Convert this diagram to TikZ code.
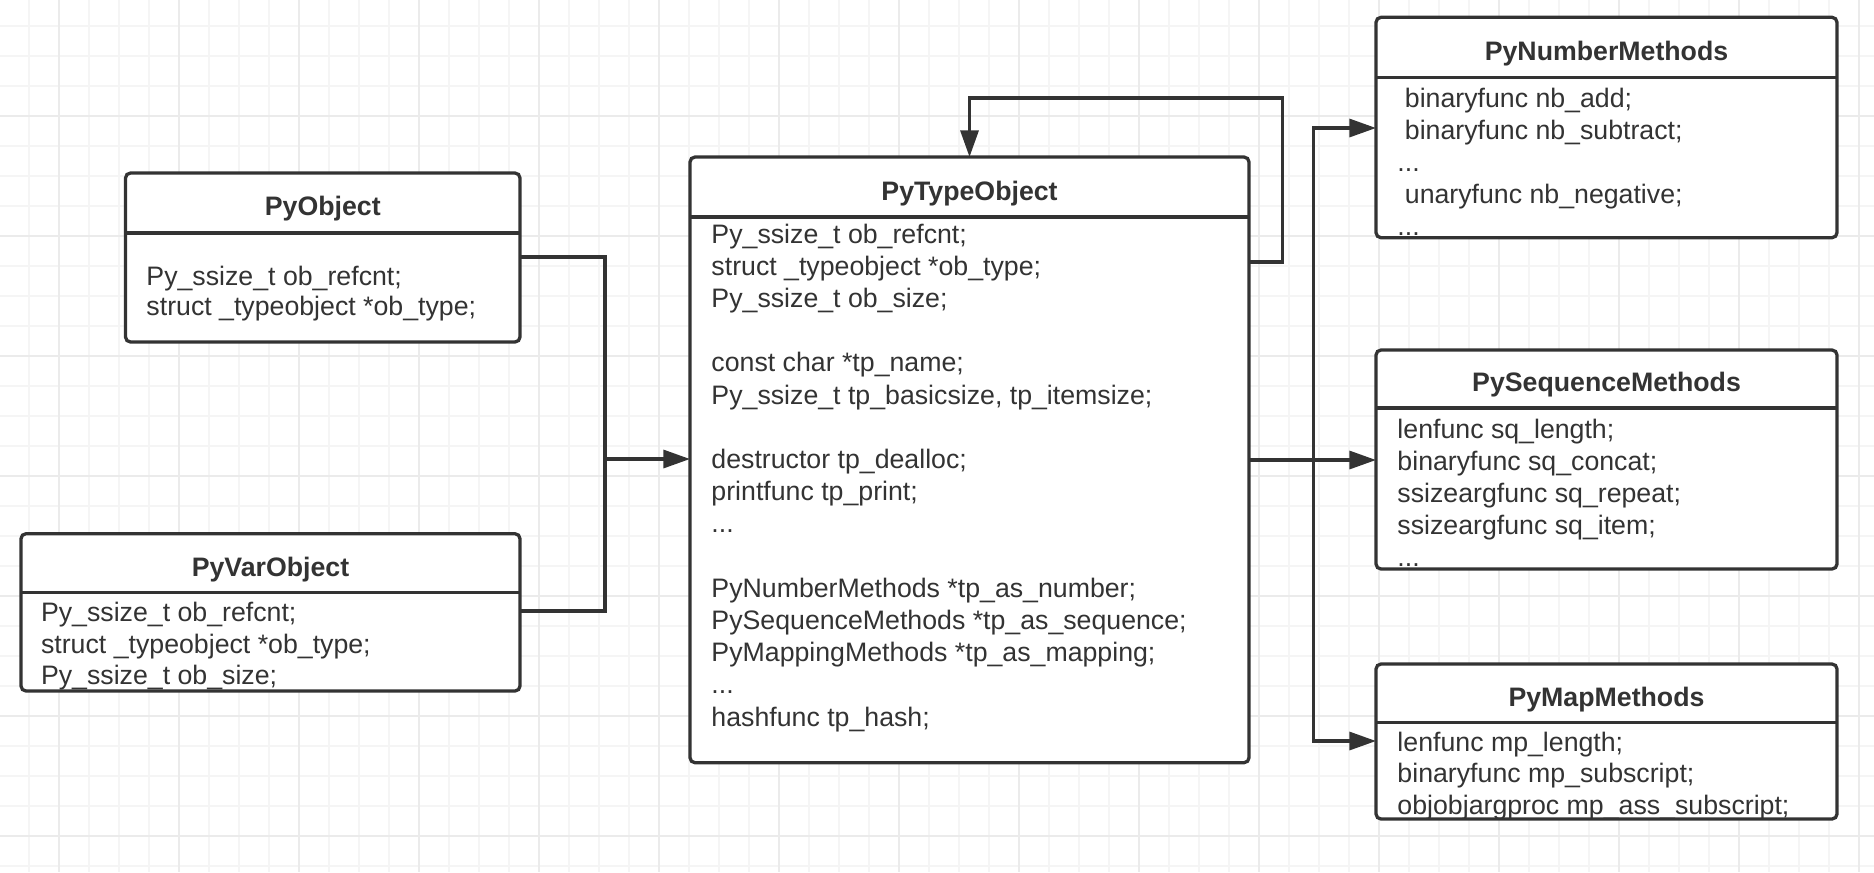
\documentclass[tikz,border=0pt]{standalone}
\usepackage{fontspec}
\setmainfont{Liberation Sans}
\usetikzlibrary{arrows.meta,fit}
\definecolor{ink}{HTML}{333333}
\definecolor{gridminor}{HTML}{F5F5F5}
\definecolor{gridmajor}{HTML}{EBEBEB}
\newcommand\more{...}
\tikzset{
    cls/.style={draw=ink,line width=1.4pt,rounded corners=0.75mm,fill=white,inner sep=0pt,outer sep=0pt},
    title/.style={text=ink,inner sep=0pt,yshift=-0.5mm,font=\bfseries\fontsize{11.4}{13.7}\selectfont},
    field/.style={anchor=west,inner sep=0pt,yshift=-0.55mm,text=ink,text height=8pt,text depth=2.5pt,font=\fontsize{11.4}{13.7}\selectfont},
    wire/.style={draw=ink,line width=1.4pt},
    link/.style={wire,-{Triangle[length=4mm,width=2.7mm]}},
}
\begin{document}
\begin{tikzpicture}[x=0.15mm,y=-0.15mm]
    \useasboundingbox (0,0) rectangle (1874,872);
    % grid
    \foreach \gx in {29,59,...,1859} \draw[gridminor,line width=0.7pt] (\gx,0) -- (\gx,872);
    \foreach \gy in {26,56,...,866} \draw[gridminor,line width=0.7pt] (0,\gy) -- (1874,\gy);
    \foreach \gx in {59,179,...,1859} \draw[gridmajor,line width=0.7pt] (\gx,0) -- (\gx,872);
    \foreach \gy in {116,236,...,836} \draw[gridmajor,line width=0.7pt] (0,\gy) -- (1874,\gy);

    % PyObject
    \node[cls,fit={(125.5,173) (520,342)}] (pyobj) {};
    \draw[wire] (pyobj.west |- 0,233) -- (pyobj.east |- 0,233);
    \node[title] (pyobj-t) at (pyobj.north |- 0,205) {PyObject};
    \foreach \t [count=\i from 0] in {Py\_ssize\_t ob\_refcnt;, struct \_typeobject *ob\_type;}
        \node[field] (pyobj-\i) at (146,275+30*\i) {\t};

    % PyVarObject
    \node[cls,fit={(21,533.7) (520,691)}] (pyvar) {};
    \draw[wire] (pyvar.west |- 0,592.7) -- (pyvar.east |- 0,592.7);
    \node[title] (pyvar-t) at (pyvar.north |- 0,566) {PyVarObject};
    \foreach \t [count=\i from 0] in {Py\_ssize\_t ob\_refcnt;, struct \_typeobject *ob\_type;, Py\_ssize\_t ob\_size;}
        \node[field] (pyvar-\i) at (40.6,611.7+31.3*\i) {\t};

    % PyTypeObject
    \node[cls,fit={(690,157) (1249,762.7)}] (pytype) {};
    \draw[wire] (pytype.west |- 0,217) -- (pytype.east |- 0,217);
    \node[title] (pytype-t) at (pytype.north |- 0,190) {PyTypeObject};
    \foreach \n/\t in {0/{Py\_ssize\_t ob\_refcnt;}, 1/{struct \_typeobject *ob\_type;}, 2/{Py\_ssize\_t ob\_size;},
        4/{const char *tp\_name;}, 5/{Py\_ssize\_t tp\_basicsize, tp\_itemsize;},
        7/{destructor tp\_dealloc;}, 8/{printfunc tp\_print;}, 9/\more,
        11/{PyNumberMethods *tp\_as\_number;}, 12/{PySequenceMethods *tp\_as\_sequence;},
        13/{PyMappingMethods *tp\_as\_mapping;}, 14/\more, 15/{hashfunc tp\_hash;}}
        \node[field] (pytype-\n) at (711,233+32.2*\n) {\t};

    % PyNumberMethods
    \node[cls,fit={(1376,17.3) (1837,237.7)}] (pynum) {};
    \draw[wire] (pynum.west |- 0,77.7) -- (pynum.east |- 0,77.7);
    \node[title] (pynum-t) at (pynum.north |- 0,50) {PyNumberMethods};
    \foreach \t [count=\i from 0] in {\ binaryfunc nb\_add;, \ binaryfunc nb\_subtract;, \more, \ unaryfunc nb\_negative;, \more}
        \node[field] (pynum-\i) at (1397,97+32*\i) {\t};

    % PySequenceMethods
    \node[cls,fit={(1376,350) (1837,569)}] (pyseq) {};
    \draw[wire] (pyseq.west |- 0,408) -- (pyseq.east |- 0,408);
    \node[title] (pyseq-t) at (pyseq.north |- 0,381.7) {PySequenceMethods};
    \foreach \t [count=\i from 0] in {lenfunc sq\_length;, binaryfunc sq\_concat;, ssizeargfunc sq\_repeat;, ssizeargfunc sq\_item;, \more}
        \node[field] (pyseq-\i) at (1397,428+32*\i) {\t};

    % PyMapMethods
    \node[cls,fit={(1376,664) (1837,819)}] (pymap) {};
    \draw[wire] (pymap.west |- 0,722.7) -- (pymap.east |- 0,722.7);
    \node[title] (pymap-t) at (pymap.north |- 0,696) {PyMapMethods};
    \foreach \t [count=\i from 0] in {lenfunc mp\_length;, binaryfunc mp\_subscript;, objobjargproc mp\_ass\_subscript;}
        \node[field] (pymap-\i) at (1397,741+31.5*\i) {\t};

    % connectors
    \coordinate (join) at (605,459);
    \coordinate (loop) at (1282.5,98);
    \coordinate (fork) at (1313.6,460);
    \draw[wire] (pyobj.east |- 0,257) -| (join) |- (pyvar.east |- 0,611);
    \draw[link] (join) -- (pytype.west |- join);
    \draw[link] (pytype.east |- 0,262) -| (loop) -| (pytype.north);
    \draw[link] (pytype.east |- fork) -- (pyseq.west |- fork);
    \draw[link] (fork) |- (pynum.west |- 0,128);
    \draw[link] (fork) |- (pymap.west |- 0,741);
\end{tikzpicture}
\end{document}
